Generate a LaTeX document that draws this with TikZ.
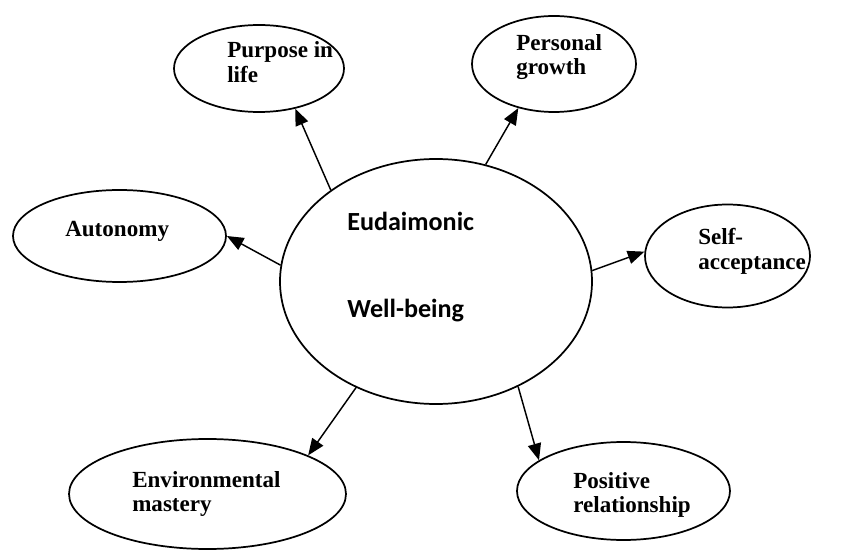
\documentclass[tikz,border=0pt]{standalone}
\usepackage{fontspec}
\setmainfont{Liberation Serif}
\newfontfamily\centerfont{Carlito}
\usetikzlibrary{shapes.geometric,arrows.meta}

\tikzset{
  bubble/.style={draw=black, line width=1.3pt, ellipse, inner sep=0pt},
  link/.style={draw=black, line width=1.1pt, -{Triangle[length=12.5pt,width=10pt]}},
  leaf/.style={anchor=base west, inner sep=0pt, font=\fontsize{17.3}{20}\selectfont\bfseries},
  core/.style={anchor=base west, inner sep=0pt, font=\centerfont\fontsize{19.6}{24}\selectfont\bfseries}
}

\begin{document}
\begin{tikzpicture}[x=0.75pt, y=-0.75pt]
  \useasboundingbox (0,0) rectangle (865,556);

  % central construct
  \node[bubble, minimum width=234pt, minimum height=183.75pt] (C) at (436,281.5) {};
  \node[core] (c1) at (347,231) {Eudaimonic};
  \node[core] (c2) at (347,318) {Well-being};

  % the six dimensions
  \node[bubble, minimum width=127.5pt, minimum height=65.25pt] (P) at (259,68.5) {};
  \node[bubble, minimum width=123pt, minimum height=72pt] (G) at (554,64) {};
  \node[bubble, minimum width=159.75pt, minimum height=69pt] (A) at (119.5,236) {};
  \node[bubble, minimum width=123.75pt, minimum height=77.25pt] (S) at (727.5,256) {};
  \node[bubble, minimum width=207.75pt, minimum height=82.5pt] (E) at (207.5,494) {};
  \node[bubble, minimum width=159.75pt, minimum height=73.5pt] (R) at (623.5,491) {};

  \node[leaf] (p1) at (227,58) {Purpose in};
  \node[leaf] (p2) at (227,83) {life};
  \node[leaf] (g1) at (516,51) {Personal};
  \node[leaf] (g2) at (516,75) {growth};
  \node[leaf] (a1) at (65,237) {Autonomy};
  \node[leaf] (s1) at (698,245) {Self-};
  \node[leaf] (s2) at (698,270) {acceptance};
  \node[leaf] (e1) at (132,487) {Environmental};
  \node[leaf] (e2) at (132,511) {mastery};
  \node[leaf] (r1) at (573,488) {Positive};
  \node[leaf] (r2) at (573,512) {relationship};

  % arrows from the centre outwards
  \draw[link] (C.139.8) -- (P.-48.8);
  \draw[link] (C.67.9) -- (G.231.5);
  \draw[link] (C.174) -- (A.-0.5);
  \draw[link] (C.4.6) -- (S.177.2);
  \draw[link] (C.233.9) -- (E.21.6);
  \draw[link] (C.-52.1) -- (R.160.4);
\end{tikzpicture}
\end{document}
